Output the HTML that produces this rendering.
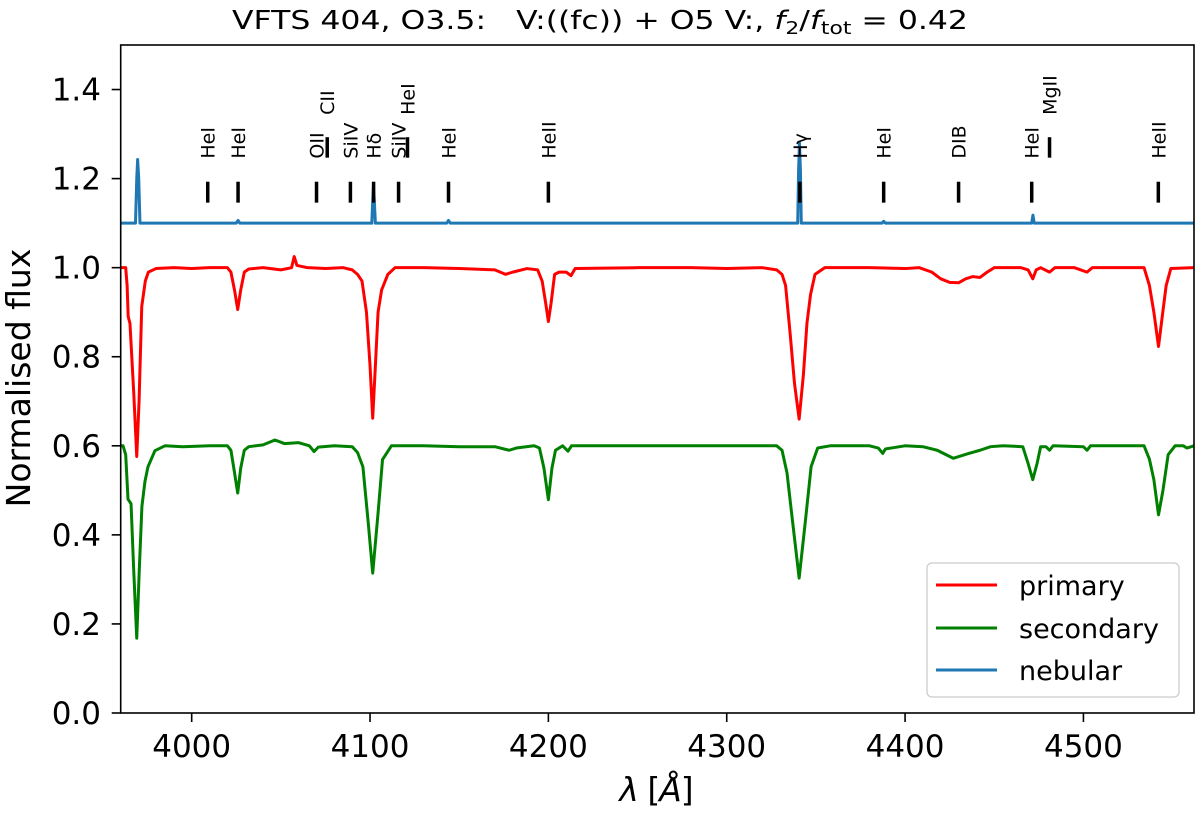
<!DOCTYPE html>
<html><head><meta charset="utf-8"><title>VFTS 404 spectra</title>
<style>
html,body{margin:0;padding:0;background:#fff;}
svg{display:block;font-family:"DejaVu Sans","Liberation Sans",sans-serif;}
.pre{white-space:pre;}
</style></head>
<body>
<svg id="chart" width="1200" height="813" viewBox="0 0 1200 813">
  <defs><clipPath id="plotclip"><rect x="120.7" y="45" width="1073.3" height="668"/></clipPath></defs>
  <text class="pre" x="232" y="29" font-size="26" textLength="736" lengthAdjust="spacingAndGlyphs">VFTS 404, O3.5:&#160;&#160; V:((fc)) + O5 V:, <tspan font-style="italic">f</tspan><tspan font-size="18" dy="5">2</tspan><tspan dy="-5">/</tspan><tspan font-style="italic">f</tspan><tspan font-size="18" dy="5">tot</tspan><tspan dy="-5"> = 0.42</tspan></text>
  <g id="axes"></g>
  <g id="series" clip-path="url(#plotclip)"></g>
  <g id="markers"></g>
  <rect x="120.7" y="45" width="1073.3" height="668" fill="none" stroke="#000" stroke-width="1.6"/>
  <text transform="translate(30,378) rotate(-90)" text-anchor="middle" font-size="33">Normalised flux</text>
  <text x="656" y="801" text-anchor="middle" font-size="33" letter-spacing="-1"><tspan font-style="italic">λ</tspan> [<tspan font-style="italic">Å</tspan>]</text>
  <g>
    <rect x="927" y="563" width="252" height="134" rx="5" fill="#fff" fill-opacity="0.8" stroke="#ccc" stroke-width="1.3"/>
    <line x1="936" y1="585" x2="997" y2="585" stroke="#ff0000" stroke-width="3"/>
    <text x="1019" y="595" font-size="27">primary</text>
    <line x1="936" y1="628" x2="997" y2="628" stroke="#008000" stroke-width="3"/>
    <text x="1019" y="638" font-size="27">secondary</text>
    <line x1="936" y1="670" x2="997" y2="670" stroke="#1f77b4" stroke-width="3"/>
    <text x="1019" y="680" font-size="27">nebular</text>
  </g>
</svg>
<script>
const xTicks = [4000, 4100, 4200, 4300, 4400, 4500];
const yTicks = [0.0, 0.2, 0.4, 0.6, 0.8, 1.0, 1.2, 1.4];
const primaryWave = [3960.3,3963,3963.8,3964.4,3965.4,3967.5,3969.2,3970.5,3972,3974,3975.7,3980,3990,4000,4010,4020,4022,4024,4025.8,4027.5,4029.5,4032,4040,4050,4056,4057.5,4059,4065,4075,4085,4090,4093,4095.5,4098,4100,4101.5,4103,4104.5,4106.5,4110,4114,4130,4150,4170,4176,4180,4188,4194,4196.5,4198.5,4200,4201.5,4203.5,4206,4210,4212.7,4215,4250,4280,4300,4320,4328,4331,4333,4335.6,4338,4340.6,4343,4345,4347,4349.5,4355,4380,4400,4408,4415,4420,4425,4430,4434,4438,4442,4446,4450,4465,4469,4471.6,4473.5,4476,4481,4484,4495,4502,4505,4534,4537,4539.5,4542.1,4544.5,4546.4,4549,4562];
const primaryFlux = [1.0,1.0,0.96,0.89,0.875,0.72,0.576,0.7,0.913,0.97,0.99,0.998,1.0,0.998,1.0,1.0,0.99,0.95,0.906,0.95,0.99,0.997,1.0,0.995,1.0,1.025,1.005,1.0,0.998,1.0,0.995,0.985,0.97,0.9,0.78,0.662,0.78,0.9,0.95,0.985,1.0,1.0,0.998,0.995,0.985,0.99,0.998,0.995,0.97,0.92,0.879,0.92,0.985,0.99,0.99,0.982,0.998,1.0,1.0,0.998,1.0,0.995,0.985,0.96,0.85,0.74,0.66,0.76,0.876,0.94,0.985,1.0,1.0,0.998,1.0,0.99,0.975,0.967,0.966,0.975,0.98,0.978,0.99,1.0,1.0,0.995,0.975,0.995,1.0,0.99,1.0,1.0,0.99,1.0,1.0,0.96,0.9,0.823,0.9,0.96,0.998,1.0];
const secondaryWave = [3960.3,3961.5,3963,3964.3,3966,3967.5,3969.2,3970.6,3972.1,3973.8,3975.5,3979.4,3985,3995,4010,4020,4022,4024,4025.8,4027.5,4029.5,4032,4040,4046.7,4052,4060,4066,4068.6,4071,4080,4090,4093,4096,4099,4101.5,4104.5,4107,4112,4130,4150,4170,4178,4182,4192,4195,4197.5,4200,4202,4204,4208,4211,4213,4250,4300,4328,4331,4333.8,4337,4340.6,4344,4347.3,4351,4358,4380,4385,4387.5,4389,4400,4410,4418,4427,4435,4442,4448,4455,4466,4469,4471.6,4474,4476,4479,4481,4483,4500,4502,4504,4534,4537,4539.5,4542.1,4544.6,4547.5,4551.4,4556,4558,4562];
const secondaryFlux = [0.6,0.6,0.58,0.48,0.47,0.32,0.168,0.32,0.464,0.52,0.553,0.589,0.6,0.598,0.6,0.6,0.59,0.54,0.494,0.55,0.59,0.598,0.602,0.613,0.605,0.607,0.6,0.587,0.597,0.6,0.598,0.585,0.553,0.427,0.314,0.449,0.569,0.6,0.6,0.598,0.598,0.59,0.595,0.6,0.595,0.55,0.479,0.55,0.59,0.6,0.588,0.6,0.6,0.6,0.6,0.59,0.539,0.427,0.303,0.427,0.553,0.595,0.6,0.6,0.595,0.583,0.593,0.6,0.598,0.59,0.572,0.582,0.59,0.598,0.6,0.598,0.56,0.524,0.56,0.598,0.598,0.59,0.6,0.598,0.59,0.6,0.6,0.57,0.524,0.445,0.5,0.58,0.6,0.6,0.595,0.6];
const nebularWave = [3960.3,3968.5,3969.2,3969.7,3970.3,3971,4025,4026,4027,4101,4101.5,4101.9,4102.4,4103,4143,4144,4145,4339.8,4340.3,4340.8,4341.3,4341.8,4387,4388,4389,4471,4471.7,4472.4,4562];
const nebularFlux = [1.1,1.1,1.2,1.243,1.2,1.1,1.1,1.106,1.1,1.1,1.15,1.183,1.15,1.1,1.1,1.106,1.1,1.1,1.22,1.28,1.22,1.1,1.1,1.104,1.1,1.1,1.118,1.1,1.1];
const markerWave = [4009, 4026, 4070, 4076, 4089, 4102, 4116, 4121, 4144, 4200, 4341, 4388, 4430, 4471, 4481, 4542];
const markerLabel = ["HeI","HeI","OII","CII","SiIV","Hδ","SiIV","HeI","HeI","HeII","Hγ","HeI","DIB","HeI","MgII","HeII"];
const markerHigh = [0,0,0,1,0,0,0,1,0,0,0,0,0,0,1,0];

const X0 = 120.7, X1 = 1194, Y0 = 713, Y1 = 45;
const xMin = 3960.2, xMax = 4562, yMin = 0, yMax = 1.5;
function xs(v){ return X0 + (v - xMin) / (xMax - xMin) * (X1 - X0); }
function ys(v){ return Y0 - (v - yMin) / (yMax - yMin) * (Y0 - Y1); }
const NS = "http://www.w3.org/2000/svg";
function mk(tag, attrs, parent){ const e = document.createElementNS(NS, tag); for (const k in attrs) e.setAttribute(k, attrs[k]); parent.appendChild(e); return e; }

const axes = document.getElementById('axes');
xTicks.forEach(t => {
  const tk = mk('line', {x1: xs(t), x2: xs(t), y1: Y0, y2: Y0 + 9, stroke: '#000', 'stroke-width': 1.6}, axes);
  
  
  const lb = mk('text', {x: xs(t), y: 757, 'text-anchor': 'middle', 'font-size': 31}, axes);
  lb.textContent = String(t);
  
  
});
yTicks.forEach(t => {
  const tk = mk('line', {x1: X0 - 9, x2: X0, y1: ys(t), y2: ys(t), stroke: '#000', 'stroke-width': 1.6}, axes);
  
  
  const lb = mk('text', {x: 101, y: ys(t) + 11, 'text-anchor': 'end', 'font-size': 31}, axes);
  lb.textContent = t.toFixed(1);
  
  
});

const series = document.getElementById('series');
function drawSeries(w, f, color, name){
  let d = '';
  for (let i = 0; i < w.length; i++) d += (i ? 'L' : 'M') + xs(w[i]).toFixed(2) + ',' + ys(f[i]).toFixed(2);
  const p = mk('path', {d: d, fill: 'none', stroke: color, 'stroke-width': 3, 'stroke-linejoin': 'round'}, series);
  
  
}
drawSeries(nebularWave, nebularFlux, '#1f77b4', 'nebular-spectrum');
drawSeries(primaryWave, primaryFlux, '#ff0000', 'primary-spectrum');
drawSeries(secondaryWave, secondaryFlux, '#008000', 'secondary-spectrum');

const markers = document.getElementById('markers');
markerWave.forEach((w, i) => {
  const hi = markerHigh[i] === 1;
  const top = hi ? 1.293 : 1.193, bot = hi ? 1.247 : 1.146, lab = hi ? 1.343 : 1.245;
  const x = xs(w);
  const tk = mk('line', {x1: x, x2: x, y1: ys(top), y2: ys(bot), stroke: '#000', 'stroke-width': 3.5}, markers);
  
  
  const tx = mk('text', {transform: 'translate(' + (x + 7).toFixed(1) + ',' + ys(lab).toFixed(1) + ') rotate(-90)', 'font-size': 19}, markers);
  tx.textContent = markerLabel[i];
  
  
});
</script>
</body></html>
